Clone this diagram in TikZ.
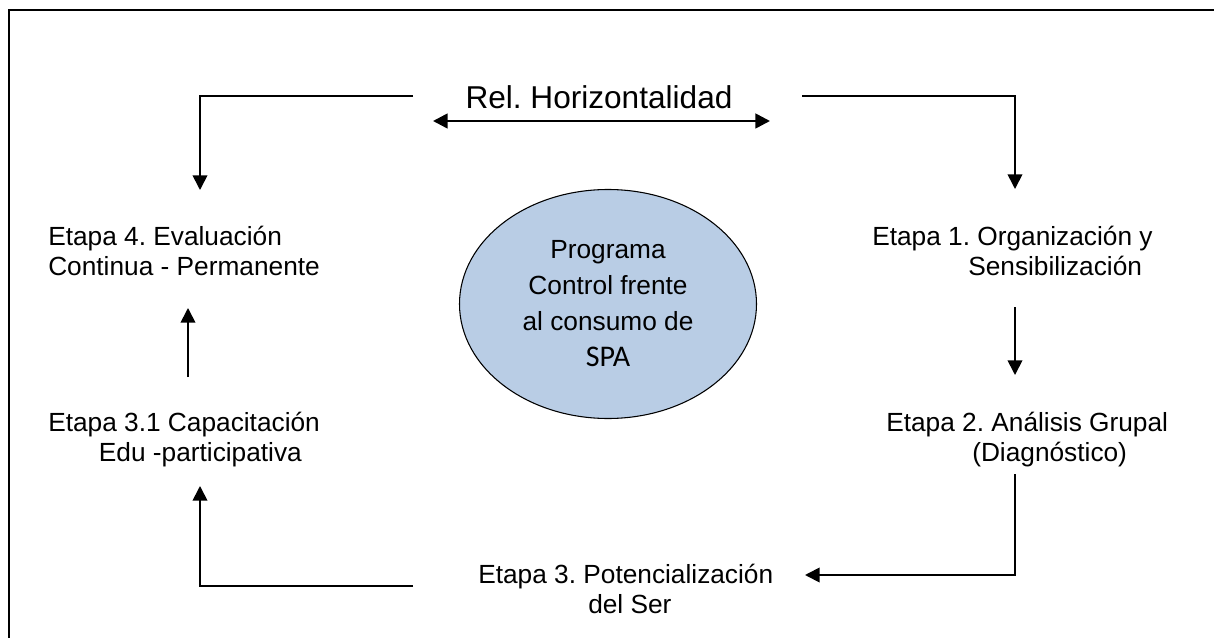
\documentclass[tikz,border=0pt]{standalone}
\usepackage{fontspec}
\setmainfont{Liberation Sans}
\newfontfamily\calibrifont{Carlito}
\usetikzlibrary{arrows.meta,shapes.geometric}
\definecolor{ellfill}{HTML}{B9CDE5}
\frenchspacing
\begin{document}
\begin{tikzpicture}[x=0.75pt,y=-0.75pt,
  lbl/.style={inner sep=0pt, anchor=base west, align=left, font=\fontsize{19.7}{22.5}\selectfont},
  tip/.tip={Triangle[length=11pt,width=11pt]},
  conn/.style={line width=1.3pt, -tip},
  dbl/.style={line width=2pt, tip-tip},
  frame/.style={line width=1.8pt},
  center/.style={ellipse, draw=black, line width=0.8pt, fill=ellfill, inner sep=0pt,
    minimum width=222.75pt, minimum height=171.75pt, align=center,
    font=\fontsize{19.7}{27}\selectfont}
]
\useasboundingbox (0,0) rectangle (1214,638);
% frame (cut by the page on the right and bottom)
\coordinate (fr-a) at (1220,10);
\coordinate (fr-b) at (9,10);
\coordinate (fr-c) at (9,645);
\draw[frame] (fr-a) -- (fr-b) -- (fr-c);

% nodes (base anchor = baseline of the last line)
\node[inner sep=0pt, anchor=base, font=\fontsize{23.7}{28}\selectfont] (rel) at (599,109) {Rel. Horizontalidad};
\node[center] (prog) at (608,304) {Programa\\Control frente\\al consumo de\\{\calibrifont\fontsize{22.5}{27}\selectfont SPA}};
\node[lbl] (e4) at (48,275) {Etapa 4. Evaluación\\Continua - Permanente};
\node[lbl] (e1) at (872,275) {Etapa 1. Organización y\\\hspace*{72pt}Sensibilización};
\node[lbl] (e31) at (48,461) {Etapa 3.1 Capacitación\\\hspace*{38pt}Edu -participativa};
\node[lbl] (e2) at (886,461) {Etapa 2. Análisis Grupal\\\hspace*{64.5pt}(Diagnóstico)};
\node[lbl] (e3) at (478,613) {Etapa 3. Potencialización\\\hspace*{82.5pt}del Ser};

% connector ends
\coordinate (tl-a) at (413,96);  \coordinate (tl-b) at (200,96);  \coordinate (tl-c) at (200,190);
\coordinate (tr-a) at (802,96);  \coordinate (tr-b) at (1015,96); \coordinate (tr-c) at (1015,189);
\coordinate (da-l) at (433,121); \coordinate (da-r) at (770,121);
\coordinate (rm-a) at (1015,307); \coordinate (rm-b) at (1015,375);
\coordinate (lm-a) at (188,377);  \coordinate (lm-b) at (188,308);
\coordinate (br-a) at (1015,474); \coordinate (br-b) at (1015,575); \coordinate (br-c) at (805,575);
\coordinate (bl-a) at (413,586);  \coordinate (bl-b) at (200,586); \coordinate (bl-c) at (200,486);

% connectors
\draw[conn] (tl-a) -- (tl-b) -- (tl-c);
\draw[conn] (tr-a) -- (tr-b) -- (tr-c);
\draw[dbl] (da-l) -- (da-r);
\draw[conn] (rm-a) -- (rm-b);
\draw[conn] (lm-a) -- (lm-b);
\draw[conn] (br-a) -- (br-b) -- (br-c);
\draw[conn] (bl-a) -- (bl-b) -- (bl-c);
\end{tikzpicture}
\end{document}
